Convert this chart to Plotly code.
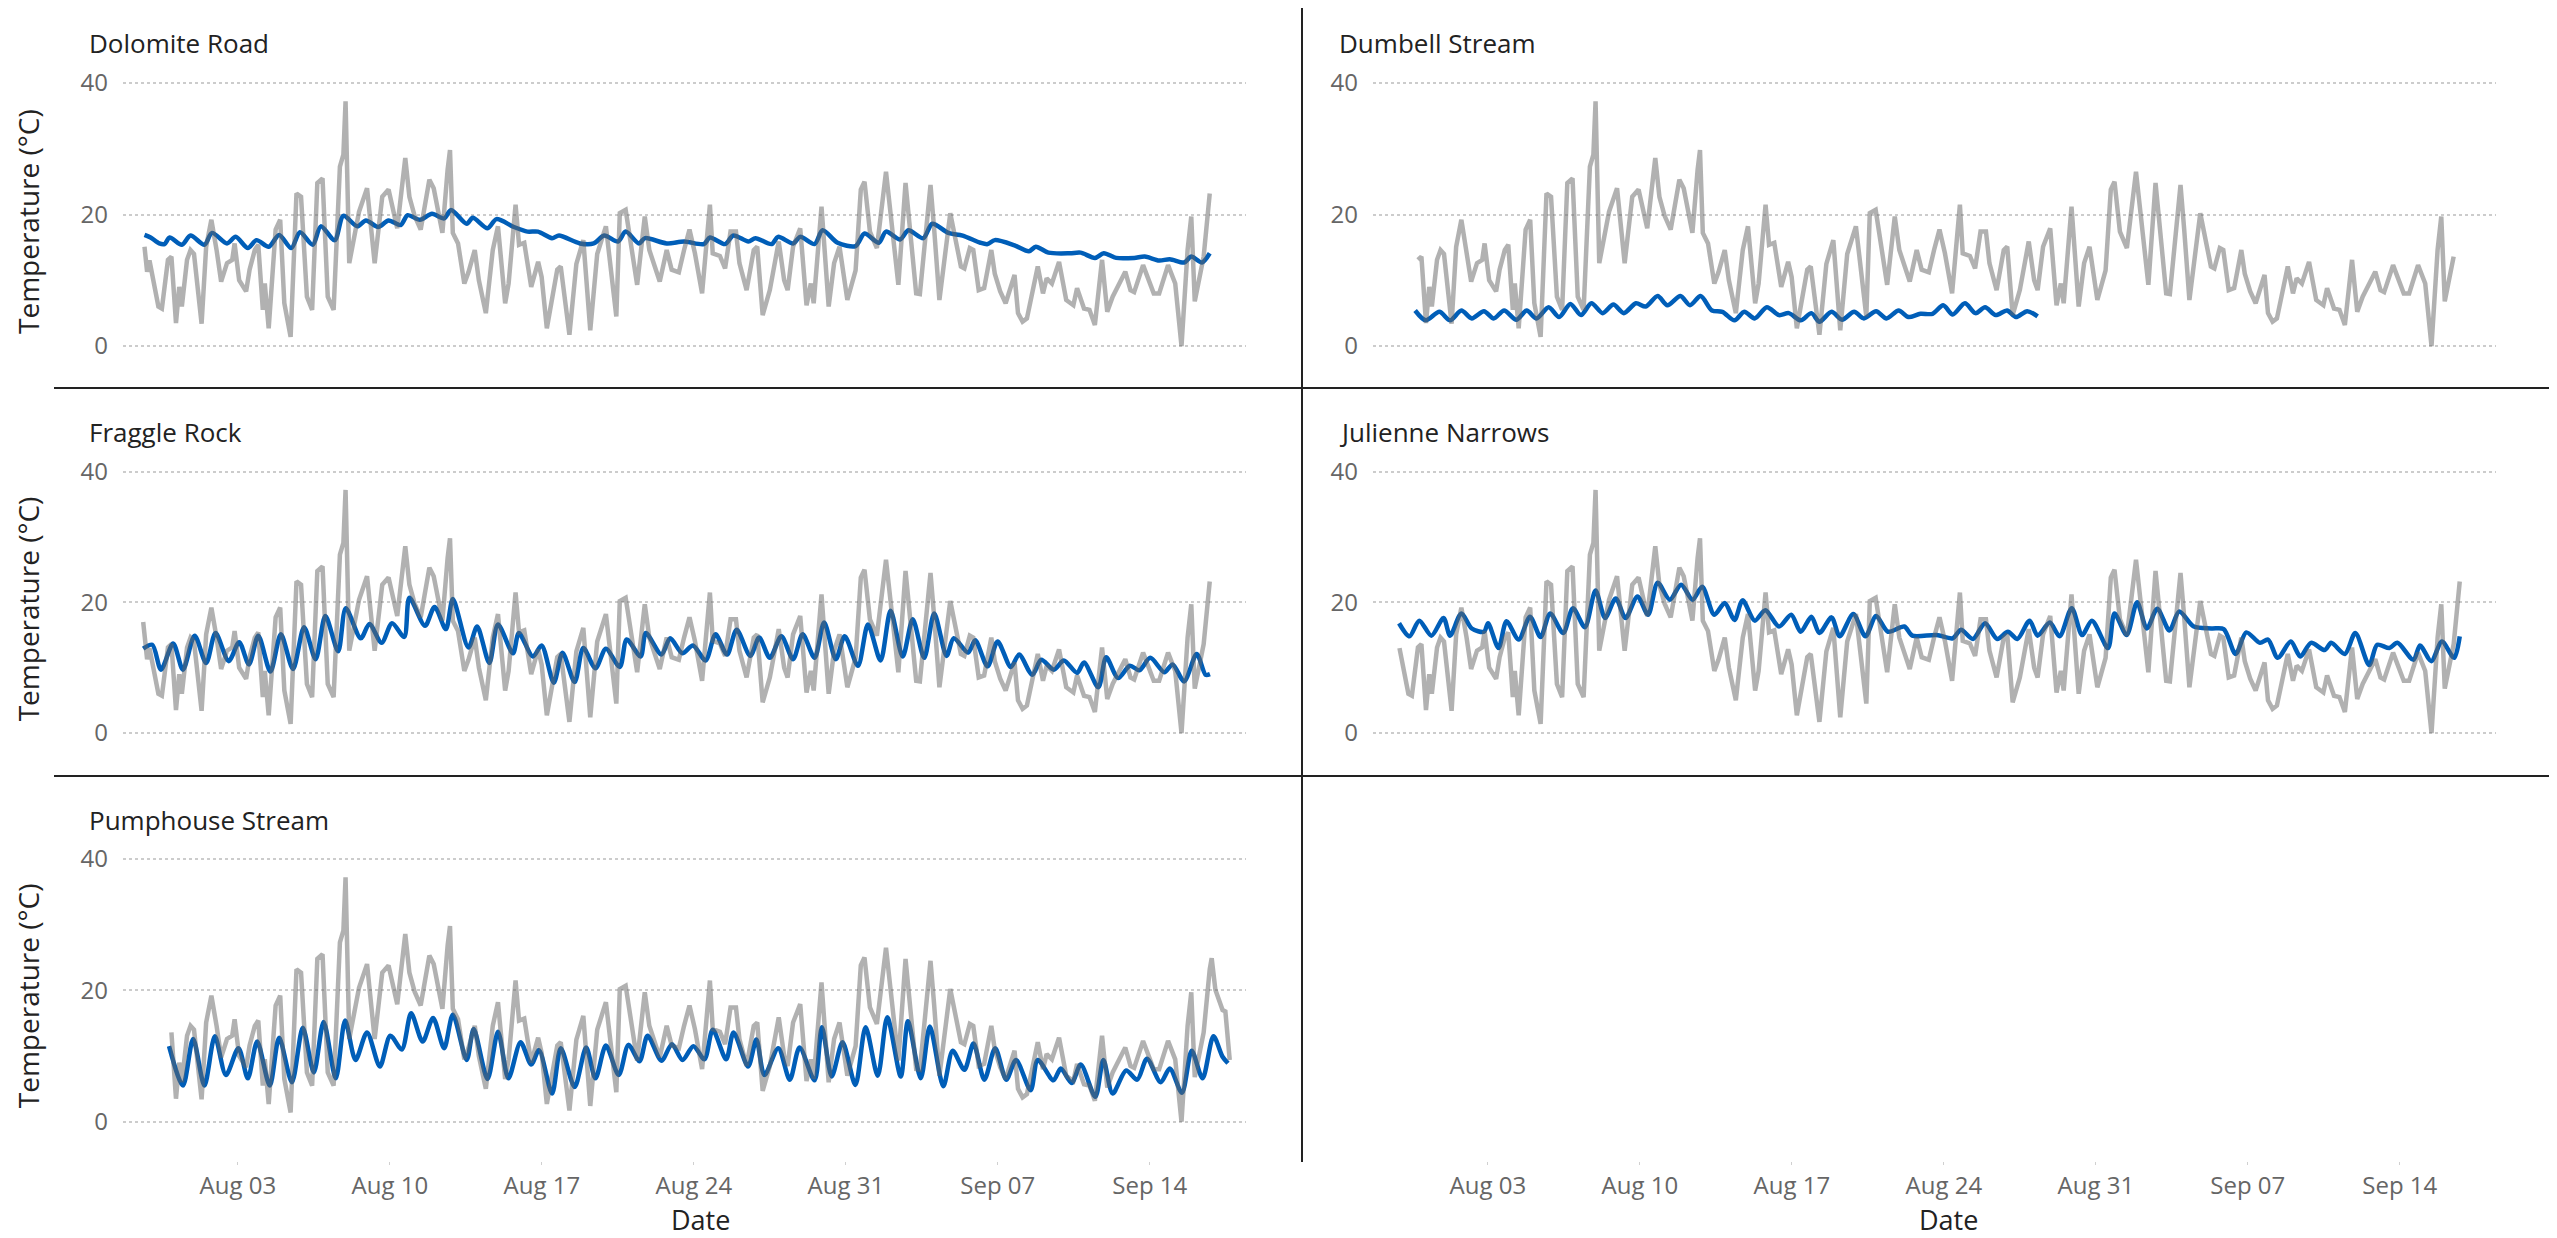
import numpy as np
import pandas as pd
import plotly.graph_objects as go

# ---------------- data (days relative to Aug 03 00:00) ----------------
BASE = pd.Timestamp("2021-08-03")

air_day = [-4.36, -4.30, -4.18, -4.07, -3.66, -3.50, -3.22, -3.06, -2.85, -2.70, -2.58, -2.34, -2.18, -2.02,
           -1.67, -1.46, -1.22, -0.98, -0.77, -0.50, -0.26, -0.15, 0.06, 0.38, 0.54, 0.78, 0.94, 1.15, 1.24,
           1.42, 1.74, 1.95, 2.14, 2.43, 2.70, 2.91, 3.18, 3.42, 3.66, 3.90, 4.14, 4.41, 4.70, 4.86, 4.96,
           5.13, 5.34, 5.58, 5.95, 6.30, 6.65, 6.94, 7.34, 7.71, 7.90, 8.14, 8.42, 8.82, 9.02, 9.42, 9.66,
           9.77, 9.90, 10.14, 10.43, 10.62, 10.91, 11.10, 11.42, 11.74, 11.98, 12.31, 12.47, 12.79, 12.95,
           13.19, 13.51, 13.83, 13.99, 14.23, 14.71, 14.87, 15.27, 15.59, 15.91, 16.23, 16.55, 16.95, 17.43,
           17.59, 17.86, 18.39, 18.74, 18.95, 19.43, 19.75, 19.98, 20.31, 20.55, 20.80, 21.05, 21.38, 21.74,
           21.87, 22.20, 22.44, 22.69, 22.94, 23.10, 23.43, 23.76, 23.92, 24.17, 24.50, 24.91, 25.16, 25.32,
           25.57, 25.90, 26.19, 26.39, 26.52, 26.88, 27.21, 27.46, 27.71, 28.07, 28.45, 28.69, 28.86, 29.11,
           29.43, 29.85, 30.09, 30.42, 30.75, 31.00, 31.24, 31.41, 31.90, 32.07, 32.31, 32.81, 33.30, 33.46,
           33.71, 33.87, 34.12, 34.37, 34.70, 34.86, 35.11, 35.36, 35.77, 35.93, 36.14, 36.34, 36.84, 37.08,
           37.25, 37.49, 37.82, 38.15, 38.48, 38.65, 38.97, 39.22, 39.47, 39.80, 40.04, 40.29, 40.87, 41.11,
           41.28, 41.69, 42.18, 42.43, 42.84, 43.17, 43.46, 43.74, 43.91, 44.07, 44.48, 44.76, 44.85, 45.02,
           45.35, 45.48, 45.60, 45.68]
air_temp = [17.0, 15.1, 11.3, 13.0, 6.0, 5.7, 13.1, 13.6, 3.5, 9.0, 6.0, 13.1, 14.6, 14.0,
            3.4, 15.1, 19.2, 14.6, 9.8, 12.6, 13.1, 15.6, 10.0, 8.3, 11.6, 14.6, 15.4, 5.5, 9.5,
            2.7, 17.7, 19.2, 6.5, 1.4, 23.2, 22.7, 7.5, 5.5, 24.8, 25.5, 7.5, 5.5, 27.3, 29.1, 37.2,
            12.6, 16.0, 20.4, 24.0, 12.6, 22.7, 23.8, 17.9, 28.6, 22.7, 19.8, 17.7, 25.3, 24.0, 17.2, 26.8,
            29.8, 17.2, 15.6, 9.5, 11.2, 14.6, 10.0, 5.0, 14.6, 18.2, 6.5, 9.5, 21.5, 15.4,
            15.7, 9.0, 12.8, 10.5, 2.7, 11.6, 12.1, 1.7, 12.5, 16.1, 2.4, 14.0, 18.2, 4.5,
            20.2, 20.7, 9.3, 19.7, 14.6, 9.8, 14.6, 11.6, 11.2, 14.6, 17.7, 14.1, 8.0, 21.5,
            14.1, 13.7, 11.8, 17.4, 17.4, 12.6, 8.5, 14.6, 15.1, 4.7, 8.5, 15.9, 10.0, 8.5,
            15.1, 17.9, 6.2, 9.5, 6.5, 21.2, 6.0, 12.6, 15.1, 7.0, 11.5, 23.8, 25.0, 17.4,
            14.9, 26.5, 18.7, 9.3, 24.8, 16.2, 8.0, 7.9, 24.5, 17.7, 7.0, 20.2, 12.1, 11.8,
            14.9, 14.6, 8.5, 8.8, 14.6, 11.0, 8.3, 6.5, 10.8, 5.0, 3.7, 4.2, 12.1, 8.0,
            10.3, 9.5, 12.8, 7.0, 6.2, 8.8, 5.7, 5.5, 3.2, 13.1, 5.2, 7.5, 11.3, 8.5,
            8.2, 12.3, 8.0, 8.0, 12.3, 9.5, 0.0, 14.6, 19.7, 6.8, 13.6, 23.2, 24.9, 20.1,
            17.0, 16.8, 13.0, 9.4]

dolomite_day = [-4.30, -4.02, -3.62, -3.38, -3.14, -2.58, -2.18, -1.54, -1.19, -0.50, -0.10, 0.46, 0.86, 1.42,
                1.90, 2.46, 2.86, 3.45, 3.82, 4.46, 4.86, 5.50, 5.90, 6.46, 6.94, 7.50, 7.82, 8.38, 8.94,
                9.50, 9.82, 10.54, 10.82, 11.50, 11.91, 12.71, 13.34, 13.82, 14.47, 14.79, 15.75, 16.39,
                16.87, 17.51, 17.86, 18.47, 18.75, 19.75, 20.55, 21.46, 21.74, 22.44, 22.82, 23.51, 23.84,
                24.58, 24.88, 25.57, 25.90, 26.56, 26.93, 27.62, 28.45, 28.86, 29.52, 29.85, 30.50, 30.88,
                31.57, 31.98, 32.72, 33.38, 34.20, 34.53, 34.86, 35.77, 36.43, 36.75, 37.33, 38.32, 38.81,
                39.47, 39.88, 40.45, 41.28, 41.77, 42.43, 42.92, 43.58, 43.91, 44.40, 44.76]
dolomite_temp = [16.9, 16.5, 15.6, 15.5, 16.5, 15.4, 16.8, 15.4, 17.2, 15.6, 16.6, 14.9, 16.1, 15.1,
                 16.9, 14.9, 17.3, 15.4, 18.2, 16.1, 19.8, 18.2, 19.1, 18.1, 19.1, 18.4, 19.9, 19.2, 20.1,
                 19.4, 20.7, 18.6, 19.5, 17.9, 19.3, 18.1, 17.4, 17.4, 16.4, 16.8, 15.6, 15.6,
                 16.8, 15.9, 17.4, 15.6, 16.4, 15.6, 15.9, 15.5, 16.5, 15.5, 16.8, 15.9, 16.4,
                 15.5, 16.6, 15.6, 16.6, 15.5, 17.6, 15.7, 15.2, 17.1, 15.7, 17.4, 16.2, 17.6,
                 16.4, 18.6, 17.2, 16.8, 15.7, 15.5, 16.1, 15.3, 14.4, 15.1, 14.2, 14.1, 14.2,
                 13.4, 14.1, 13.4, 13.4, 13.6, 13.0, 13.2, 12.7, 13.6, 12.7, 14.1]

dumbell_day = [-3.35, -2.86, -2.23, -1.74, -1.22, -0.74, -0.18, 0.27, 0.75, 1.31, 1.79, 2.24, 2.80, 3.28,
               3.80, 4.29, 4.77, 5.29, 5.78, 6.26, 6.82, 7.27, 7.82, 8.27, 8.87, 9.31, 9.80, 10.32, 10.80,
               11.36, 11.81, 12.29, 12.85, 13.41, 13.86, 14.41, 14.90, 15.27, 15.83, 16.31, 16.87, 17.32,
               17.88, 18.36, 18.92, 19.37, 19.92, 20.48, 20.97, 21.41, 21.97, 22.46, 22.90, 23.39, 23.91,
               24.32, 24.84, 25.32]
dumbell_temp = [5.4, 3.9, 5.2, 3.9, 5.4, 4.2, 5.3, 4.2, 5.4, 4.0, 5.4, 4.2, 5.9, 4.4,
                6.4, 4.7, 6.5, 5.0, 6.3, 5.0, 6.5, 6.0, 7.6, 6.2, 7.6, 6.2, 7.6, 5.4, 5.2,
                3.9, 5.2, 4.2, 5.9, 4.7, 5.0, 3.9, 5.0, 3.7, 5.2, 4.0, 5.2, 4.2,
                5.3, 4.2, 5.4, 4.4, 4.9, 4.9, 6.2, 4.8, 6.5, 5.0, 5.9, 4.7, 5.4,
                4.4, 5.3, 4.5]

fraggle_day = [-4.36, -3.94, -3.54, -2.98, -2.53, -1.99, -1.46, -1.03, -0.42, 0.06, 0.51, 0.94, 1.50, 1.98,
               2.54, 3.05, 3.58, 4.03, 4.62, 4.97, 5.66, 6.06, 6.62, 7.10, 7.66, 7.90, 8.62, 9.06, 9.58,
               9.90, 10.62, 11.02, 11.58, 11.98, 12.67, 12.94, 13.59, 13.99, 14.55, 14.95, 15.51, 15.91,
               16.47, 16.95, 17.59, 17.91, 18.55, 18.79, 19.51, 19.91, 20.47, 20.96, 21.54, 22.00, 22.53,
               22.97, 23.60, 24.01, 24.50, 25.03, 25.57, 26.01, 26.56, 27.00, 27.54, 27.95, 28.56, 29.02,
               29.60, 30.06, 30.62, 31.08, 31.61, 32.07, 32.64, 32.97, 33.63, 33.96, 34.53, 34.99, 35.60,
               35.98, 36.59, 37.00, 37.58, 38.04, 38.65, 38.97, 39.63, 39.99, 40.54, 41.08, 41.52, 42.02,
               42.67, 43.05, 43.58, 44.16, 44.57, 44.77]
fraggle_temp = [12.9, 13.5, 9.7, 13.7, 9.7, 14.9, 10.7, 15.3, 11.0, 13.9, 10.5, 14.9, 9.4, 15.1,
                9.8, 16.2, 11.3, 17.9, 12.5, 19.1, 14.5, 16.7, 13.8, 16.8, 14.7, 20.7, 16.4, 19.3, 15.9,
                20.5, 13.1, 16.3, 10.7, 16.6, 12.2, 15.3, 11.7, 13.4, 7.7, 12.3, 7.8, 13.0,
                9.9, 12.9, 10.1, 14.3, 11.7, 15.3, 12.0, 14.5, 12.2, 13.4, 11.1, 15.1, 12.0,
                15.8, 11.8, 14.6, 11.5, 14.8, 11.3, 15.1, 11.5, 16.9, 11.3, 14.8, 10.3, 16.6,
                11.1, 18.7, 11.7, 17.4, 11.5, 18.3, 11.8, 14.5, 12.3, 14.2, 10.2, 14.0, 10.1,
                12.0, 8.9, 11.2, 9.7, 11.1, 9.2, 10.8, 7.0, 11.6, 8.4, 10.3, 9.6, 11.5,
                9.3, 10.5, 7.9, 12.1, 8.9, 9.0]

julienne_day = [-4.09, -3.61, -3.16, -2.60, -2.04, -1.74, -1.22, -0.74, -0.18, 0.01, 0.49, 0.86, 1.42, 1.94,
                2.43, 2.87, 3.47, 3.92, 4.47, 4.96, 5.40, 5.89, 6.34, 6.89, 7.38, 7.82, 8.38, 8.90, 9.43,
                9.87, 10.43, 10.91, 11.36, 11.73, 12.29, 12.78, 13.41, 13.97, 14.41, 14.90, 15.27, 15.83,
                16.20, 16.83, 17.39, 17.88, 18.43, 19.18, 19.55, 20.67, 21.41, 21.79, 22.34, 22.90, 23.46,
                23.95, 24.39, 24.95, 25.32, 25.88, 26.33, 26.89, 27.37, 27.82, 28.56, 28.86, 29.42, 29.90,
                30.35, 30.83, 31.39, 31.84, 32.51, 33.33, 33.89, 34.44, 34.93, 35.56, 35.93, 36.38, 36.98,
                37.42, 37.91, 38.54, 38.84, 39.47, 39.95, 40.59, 40.96, 41.52, 41.89, 42.63, 42.93, 43.45,
                43.94, 44.50, 44.76]
julienne_temp = [16.8, 14.8, 17.2, 14.9, 17.6, 14.9, 18.3, 16.0, 15.5, 16.8, 13.0, 17.1, 14.3, 17.8,
                 14.7, 18.3, 15.3, 19.1, 16.2, 21.8, 17.6, 20.6, 17.6, 20.9, 18.1, 23.0, 20.4, 22.7, 20.4,
                 22.4, 18.1, 19.9, 17.3, 20.3, 17.2, 18.8, 16.3, 18.1, 15.5, 17.8, 15.3, 17.7,
                 14.8, 18.2, 14.8, 17.9, 15.5, 16.3, 14.9, 15.0, 14.5, 15.8, 14.4, 16.8, 14.4,
                 15.5, 14.4, 17.2, 14.9, 16.9, 14.8, 19.1, 15.0, 17.2, 13.0, 18.3, 15.0, 20.0,
                 16.0, 19.0, 15.7, 18.6, 16.3, 16.0, 15.9, 12.1, 15.4, 13.8, 14.3, 11.5, 14.0,
                 11.7, 13.8, 12.7, 13.8, 12.1, 15.3, 10.4, 13.5, 13.0, 13.8, 11.2, 13.4, 11.0,
                 14.0, 11.5, 14.8]

pumphouse_day = [-3.17, -2.53, -2.06, -1.54, -1.06, -0.55, 0.03, 0.46, 0.89, 1.47, 1.90, 2.49, 2.99, 3.50,
                 3.95, 4.51, 4.94, 5.42, 5.95, 6.54, 7.02, 7.55, 7.98, 8.51, 8.99, 9.50, 9.90, 10.54, 10.86,
                 11.50, 11.98, 12.46, 13.02, 13.51, 13.87, 14.47, 14.87, 15.51, 16.04, 16.47, 16.95, 17.54,
                 17.99, 18.50, 18.87, 19.51, 19.99, 20.48, 20.98, 21.49, 21.87, 22.49, 22.83, 23.50, 23.88,
                 24.25, 24.89, 25.42, 25.87, 26.56, 26.90, 27.35, 27.85, 28.44, 28.91, 29.47, 29.91, 30.53,
                 30.86, 31.45, 31.87, 32.49, 32.92, 33.46, 33.88, 34.38, 34.88, 35.39, 35.84, 36.51, 36.84,
                 37.56, 37.90, 38.40, 38.82, 39.49, 39.86, 40.29, 40.91, 41.42, 41.87, 42.50, 42.92, 43.48,
                 43.93, 44.43, 44.93, 45.35, 45.60]
pumphouse_temp = [11.5, 5.5, 12.6, 5.5, 13.0, 7.1, 11.2, 6.6, 12.2, 5.5, 12.8, 6.0, 14.3, 7.5,
                  15.2, 6.6, 15.4, 9.4, 13.6, 8.4, 13.1, 11.0, 16.5, 12.2, 15.8, 11.2, 16.3, 9.4, 14.1,
                  6.5, 13.7, 6.6, 12.1, 8.7, 10.9, 4.3, 11.2, 5.3, 11.3, 6.6, 11.6, 7.1,
                  11.7, 9.2, 13.1, 9.3, 11.8, 9.4, 11.5, 9.5, 14.0, 9.5, 13.6, 8.4, 12.5,
                  7.1, 11.2, 6.4, 11.3, 6.3, 14.4, 6.9, 12.1, 5.6, 14.4, 7.0, 15.9, 6.9,
                  15.3, 6.6, 14.5, 5.4, 10.8, 7.9, 11.9, 6.4, 11.2, 6.4, 9.4, 4.8, 9.4,
                  6.3, 8.1, 5.9, 8.7, 3.8, 9.4, 4.3, 7.8, 6.4, 9.6, 6.0, 8.1, 4.4,
                  10.8, 6.6, 13.0, 9.9, 8.9]

site_names = ["Dolomite Road", "Dumbell Stream", "Fraggle Rock", "Julienne Narrows", "Pumphouse Stream"]
site_water = [(dolomite_day, dolomite_temp), (dumbell_day, dumbell_temp), (fraggle_day, fraggle_temp),
              (julienne_day, julienne_temp), (pumphouse_day, pumphouse_temp)]
# time window of the air-temperature record shown in each panel (days)
air_window_start = [-4.30, -3.35, -4.36, -4.10, -3.17]
air_window_end = [44.76, 44.60, 44.76, 44.80, 45.70]

tick_days = [0, 7, 14, 21, 28, 35, 42]
tick_labels = ["Aug 03", "Aug 10", "Aug 17", "Aug 24", "Aug 31", "Sep 07", "Sep 14"]
y_ticks = [0, 20, 40]


def to_time(days):
    return BASE + pd.to_timedelta(np.asarray(days, dtype=float), unit="D")


# ---------------- layout geometry (page pixels; the page body adds an 8px offset) ----------------
OFF = 8
W, H = 2557 - OFF, 1238 - OFF


def px(p):
    return (p - OFF) / W


def py(p):
    return 1 - (p - OFF) / H


col_px = [(123, 1246), (1373, 2496)]
row_px = [(69.85, 385.45), (458.6, 772.2), (845.9, 1161.1)]
cells = [(0, 0), (0, 1), (1, 0), (1, 1), (2, 0), (2, 1)]
X_RANGE = [to_time([-5.29])[0], to_time([46.43])[0]]

BLUE = "#005EB8"
GREY = "rgba(100,100,100,0.5)"
FONT = "Open Sans"

fig = go.Figure()
air_day_arr = np.array(air_day)
air_temp_arr = np.array(air_temp)

for i, name in enumerate(site_names):
    n = i + 1
    xa = "x" if n == 1 else f"x{n}"
    ya = "y" if n == 1 else f"y{n}"
    wd, wt = site_water[i]
    fig.add_trace(go.Scatter(x=to_time(wd), y=wt, mode="lines",
                             line=dict(color=BLUE, width=4.5, shape="spline", smoothing=0.8),
                             xaxis=xa, yaxis=ya, showlegend=False, hoverinfo="skip"))
    m = (air_day_arr >= air_window_start[i] - 1e-9) & (air_day_arr <= air_window_end[i] + 1e-9)
    fig.add_trace(go.Scatter(x=to_time(air_day_arr[m]), y=air_temp_arr[m], mode="lines",
                             line=dict(color=GREY, width=4.5),
                             xaxis=xa, yaxis=ya, showlegend=False, hoverinfo="skip"))

# empty sixth cell (only its date axis is shown)
fig.add_trace(go.Scatter(x=[], y=[], mode="lines", xaxis="x6", yaxis="y6", showlegend=False,
                         hoverinfo="skip"))

layout = dict(width=W, height=H, margin=dict(l=0, r=0, t=0, b=0),
              paper_bgcolor="white", plot_bgcolor="white", showlegend=False,
              font=dict(family=FONT, color="#222222"))

for k, (r, c) in enumerate(cells):
    n = k + 1
    x0, x1 = col_px[c]
    y0, y1 = row_px[r]
    bottom = r == 2
    xkey = "xaxis" if n == 1 else f"xaxis{n}"
    ykey = "yaxis" if n == 1 else f"yaxis{n}"
    layout[xkey] = dict(domain=[px(x0), px(x1)], anchor="y" if n == 1 else f"y{n}", type="date",
                        range=X_RANGE, showgrid=False, zeroline=False, showline=False,
                        tickvals=to_time(tick_days), ticktext=tick_labels,
                        showticklabels=bottom, ticks="outside" if bottom else "",
                        ticklen=3, tickwidth=1, tickcolor="#d0d0d0",
                        tickfont=dict(family=FONT, size=24, color="#666666"),
                        ticklabelstandoff=0, automargin=False, fixedrange=True)
    empty = n == 6
    layout[ykey] = dict(domain=[py(y1), py(y0)], anchor="x" if n == 1 else f"x{n}",
                        range=[-6, 42], tickvals=y_ticks, showgrid=not empty, gridcolor="#cccccc",
                        griddash="dot", gridwidth=1.5, zeroline=False, showline=False, ticks="",
                        showticklabels=not empty,
                        tickfont=dict(family=FONT, size=24, color="#666666"),
                        ticklabelstandoff=14, automargin=False, fixedrange=True)

annotations = []
title_pos = [(87, 43), (1336.5, 43), (87, 432), (1336.5, 432), (87, 820)]
for name, (tx, ty) in zip(site_names, title_pos):
    annotations.append(dict(text=name, x=px(tx), y=py(ty), xref="paper", yref="paper",
                            xanchor="left", yanchor="middle", showarrow=False,
                            font=dict(family=FONT, size=26, color="#222222")))
for ty in [222, 609.3, 996.2]:
    annotations.append(dict(text="Temperature (°C)", x=px(28), y=py(ty), xref="paper", yref="paper",
                            xanchor="center", yanchor="middle", textangle=-90, showarrow=False,
                            font=dict(family=FONT, size=28, color="#222222")))
for tx in [700, 1948.5]:
    annotations.append(dict(text="Date", x=px(tx), y=py(1219), xref="paper", yref="paper",
                            xanchor="center", yanchor="middle", showarrow=False,
                            font=dict(family=FONT, size=27, color="#222222")))
layout["annotations"] = annotations

line_style = dict(color="#222222", width=2)
layout["shapes"] = [
    dict(type="line", xref="paper", yref="paper", x0=px(54), x1=1, y0=py(388), y1=py(388), line=line_style),
    dict(type="line", xref="paper", yref="paper", x0=px(54), x1=1, y0=py(776), y1=py(776), line=line_style),
    dict(type="line", xref="paper", yref="paper", x0=px(1302), x1=px(1302), y0=py(1162), y1=1, line=line_style),
]

fig.update_layout(**layout)
fig.write_html("out.html", config={"displayModeBar": False})
